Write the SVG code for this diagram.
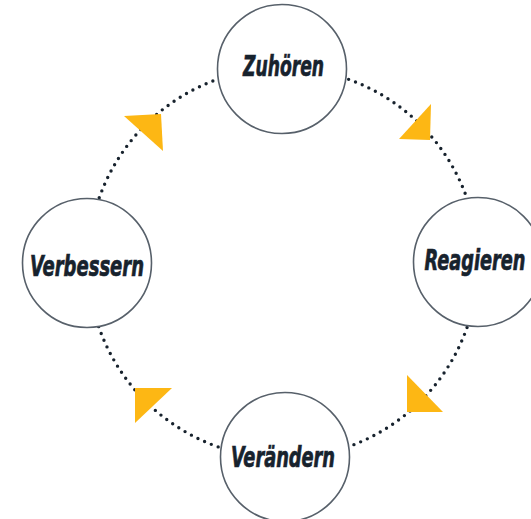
<svg xmlns="http://www.w3.org/2000/svg" width="531" height="519" viewBox="0 0 531 519">
<style>
.node{fill:#ffffff;stroke:#57606a;stroke-width:1.6}
.lbl{font-family:"DejaVu Sans Condensed","DejaVu Sans","Liberation Sans",sans-serif;font-stretch:condensed;font-weight:bold;font-style:italic;font-size:29px;fill:#17222d;stroke:#17222d;stroke-width:0.7;text-anchor:middle}
.dots{fill:none;stroke:#17222d;stroke-width:3.4;stroke-linecap:round;stroke-dasharray:0 7.3}
.arrow{fill:#fdb714}
</style>
<rect width="531" height="519" fill="#ffffff"/>
<g id="connectors">
<circle class="dots" cx="283" cy="263" r="195"/>
<polygon class="arrow" points="431,104 399,139 430,140"/>
<polygon class="arrow" points="407,375 407,412 443,412"/>
<polygon class="arrow" points="135,388 172,388 135,423"/>
<polygon class="arrow" points="124,116 161,114 163,151"/>
</g>
<g id="zuhoeren">
<circle class="node" cx="282" cy="69" r="64.5"/>
<text class="lbl" x="283.5" y="76" textLength="81" lengthAdjust="spacingAndGlyphs">Zuhören</text>
</g>
<g id="reagieren">
<circle class="node" cx="478" cy="262" r="64.5"/>
<text class="lbl" x="475" y="270" textLength="101" lengthAdjust="spacingAndGlyphs">Reagieren</text>
</g>
<g id="veraendern">
<circle class="node" cx="285" cy="457" r="64.5"/>
<text class="lbl" x="283" y="467" textLength="104" lengthAdjust="spacingAndGlyphs">Verändern</text>
</g>
<g id="verbessern">
<circle class="node" cx="87" cy="263" r="64.5"/>
<text class="lbl" x="87" y="276" textLength="114" lengthAdjust="spacingAndGlyphs">Verbessern</text>
</g>
</svg>
